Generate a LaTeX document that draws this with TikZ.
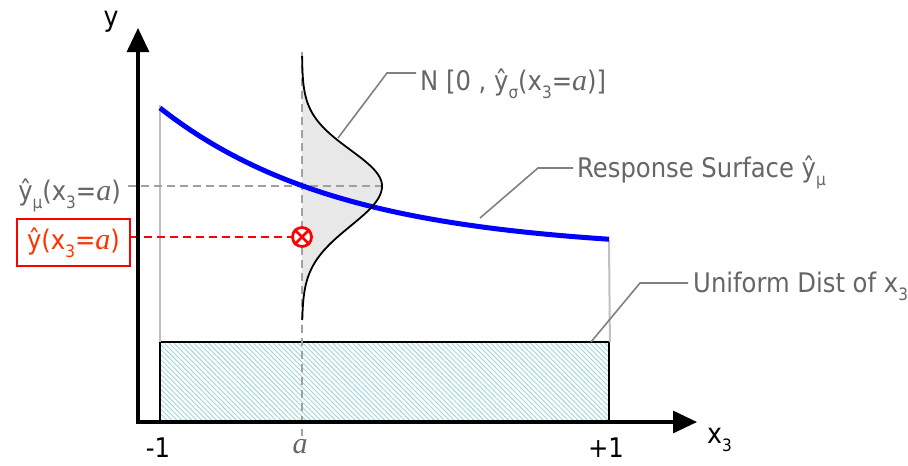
\documentclass[tikz,border=0pt]{standalone}
\usepackage{fontspec}
\setmainfont{DejaVu Sans Condensed}
\newfontfamily\serifit{Liberation Serif}
\usetikzlibrary{arrows.meta,patterns.meta}
\newcommand{\lsub}[1]{\raisebox{-0.3em}{\fontsize{17}{17}\selectfont #1}}
\newcommand{\ita}{{\serifit\itshape\fontsize{30}{32}\selectfont a}}
\definecolor{txtgray}{HTML}{666666}
\definecolor{leadgray}{HTML}{808080}
\definecolor{guidegray}{HTML}{C0C0C0}
\definecolor{dashgray}{HTML}{A0A0A0}
\definecolor{redtxt}{HTML}{FF3300}
\definecolor{hatchc}{HTML}{9ED5DD}
\definecolor{bellfill}{HTML}{E8E8E8}
\begin{document}
\begin{tikzpicture}[x=1pt,y=-1pt,font=\fontsize{27}{32}\selectfont,
  lbl/.style={text=txtgray,inner sep=0pt},
  leader/.style={leadgray,line width=1.6pt},
  guide/.style={guidegray,line width=2pt},
  dashline/.style={line width=2pt,dash pattern=on 8pt off 5pt},
  axis/.style={line width=3.2pt,-{Triangle[width=22pt,length=24pt]}}]
\useasboundingbox (0,0) rectangle (908,466);

% uniform distribution box
\node (unif) [draw=black,line width=2pt,anchor=north west,inner sep=0pt,
  minimum width=449pt,minimum height=79pt,
  pattern={Lines[angle=-45,distance=3.5pt,line width=0.9pt]},pattern color=hatchc] at (160,342) {};

% guides
\draw[guide] (160,105) -- (unif.north west);
\draw[guide] (609,240) -- (unif.north east);

% bell fill
\fill[bellfill] (302,58)
  -- plot[domain=58:186,samples=70,variable=\t] ({302+80*exp(-((\t-186)/36)*((\t-186)/36)/2)},\t)
  -- plot[domain=186:320,samples=70,variable=\t] ({302+80*exp(-((\t-186)/40)*((\t-186)/40)/2)},\t)
  -- (302,320) -- cycle;

% dashed guides
\draw[dashgray,dashline] (302,52) -- (302,436);
\draw[dashgray,dashline] (128,186) -- (383,186);

% response surface
\draw[blue,line width=5pt] plot[domain=160:609,samples=90,variable=\t] (\t,{251.4-143.4*exp(-0.0055*(\t-160))});

% bell outline
\draw[black,line width=1.8pt]
  plot[domain=56:186,samples=70,variable=\t] ({302+80*exp(-((\t-186)/36)*((\t-186)/36)/2)},\t)
  -- plot[domain=186:320,samples=70,variable=\t] ({302+80*exp(-((\t-186)/40)*((\t-186)/40)/2)},\t);

% red point
\node (cross) [circle,draw=red,fill=white,line width=2.8pt,minimum size=19pt,inner sep=0pt] at (302,237) {};
\draw[red,line width=2.6pt] (cross.north west) -- (cross.south east) (cross.north east) -- (cross.south west);

% red box label
\node (ybox) [draw=red,line width=2pt,text=redtxt,minimum width=113pt,minimum height=47pt,inner sep=0pt] at (73.5,242.5) {ŷ(x\lsub{3}=\ita)};
\draw[red,dashline] (ybox.east |- cross.west) -- (cross.west);

% axes
\draw[axis] (138,423) -- (138,28);
\draw[axis] (136,422) -- (697,422);

% axis labels
\node (ylab) [font=\fontsize{28}{32}\selectfont] at (111,22) {y};
\node (xlab) [anchor=west,inner sep=0pt,font=\fontsize{28}{32}\selectfont] at (707,440) {x\lsub{3}};
\node (m1) at (158,448) {-1};
\node (p1) at (606,448) {+1};
\node (alab) [text=txtgray] at (300,447) {\ita};
\node (ymu) [lbl,anchor=base east] at (121,200) {ŷ\lsub{μ}(x\lsub{3}=\ita)};

% annotation labels
\node (nlab) [lbl,anchor=base west] at (420,90) {N [0 , ŷ\lsub{σ}(x\lsub{3}=\ita)]};
\node (rlab) [lbl,anchor=base west] at (577,177) {Response Surface ŷ\lsub{μ}};
\node (ulab) [lbl,anchor=base west] at (693,292) {Uniform Dist of x\lsub{3}};

% leaders
\coordinate (nA) at (338,138); \coordinate (nB) at (387,73); \coordinate (nC) at (416,73);
\draw[leader] (nA) -- (nB) -- (nC);
\coordinate (rA) at (480,218); \coordinate (rB) at (538,168); \coordinate (rC) at (573,168);
\draw[leader] (rA) -- (rB) -- (rC);
\coordinate (uA) at (591,342); \coordinate (uB) at (640,283); \coordinate (uC) at (688,283);
\draw[leader] (uA) -- (uB) -- (uC);
\end{tikzpicture}
\end{document}
